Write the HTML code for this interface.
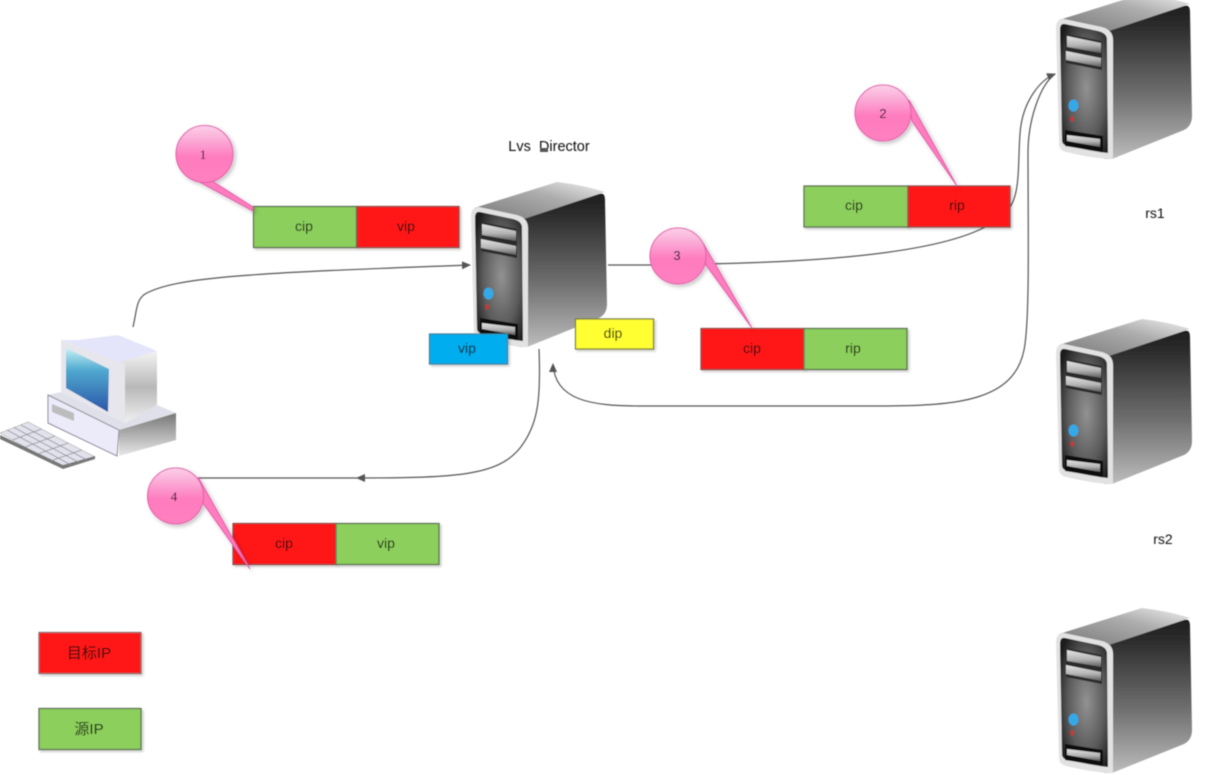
<!DOCTYPE html>
<html><head><meta charset="utf-8">
<style>
html,body{margin:0;padding:0;background:#fff}
svg{display:block}
text{font-family:"Liberation Sans","Noto Sans CJK SC",sans-serif;font-size:14px;fill:#111;text-anchor:middle}
.box{stroke:#5c6b52;stroke-width:1.2;filter:url(#sh)}
.ln{fill:none;stroke:#555;stroke-width:1.2}
.call{filter:url(#sh2)}
.call circle{fill:url(#pink);stroke:#e060a8;stroke-width:1}
.call path{fill:#ff7cbe;stroke:#e060a8;stroke-width:1}
.k{stroke:#8f8f9c;stroke-width:.8;fill:none}
</style></head><body>
<svg width="1207" height="775" viewBox="0 0 1207 775" xmlns="http://www.w3.org/2000/svg">
<defs>
<filter id="sh" x="-10%" y="-10%" width="125%" height="130%"><feDropShadow dx="1.5" dy="1.5" stdDeviation="1.2" flood-color="#000" flood-opacity=".25"/></filter>
<filter id="sh2" x="-20%" y="-20%" width="150%" height="150%"><feDropShadow dx="2" dy="2" stdDeviation="2" flood-color="#000" flood-opacity=".25"/></filter>
<filter id="bl"><feGaussianBlur stdDeviation=".4"/></filter>
<linearGradient id="pink" x1="0" y1="0" x2="0" y2="1"><stop offset="0" stop-color="#fbd0e8"/><stop offset=".3" stop-color="#fba4d3"/><stop offset=".55" stop-color="#ff7cbe"/><stop offset="1" stop-color="#ff80c0"/></linearGradient>
<linearGradient id="sr" x1="0" y1="0" x2="0" y2="1"><stop offset="0" stop-color="#1e1e1e"/><stop offset=".15" stop-color="#2e2e2e"/><stop offset=".6" stop-color="#727272"/><stop offset="1" stop-color="#bcbcbc"/></linearGradient>
<linearGradient id="st" x1="0" y1="1" x2="1" y2="0"><stop offset="0" stop-color="#787878"/><stop offset=".6" stop-color="#adadad"/><stop offset="1" stop-color="#f0f0f0"/></linearGradient>
<radialGradient id="sf" cx=".55" cy=".5" r=".65"><stop offset="0" stop-color="#929292"/><stop offset=".6" stop-color="#5a5a5a"/><stop offset="1" stop-color="#1c1c1c"/></radialGradient>
<linearGradient id="bay" x1="0" y1="0" x2="0" y2="1"><stop offset="0" stop-color="#e4e4e4"/><stop offset=".55" stop-color="#b4b4b4"/><stop offset="1" stop-color="#5c5c5c"/></linearGradient>
<linearGradient id="scr" x1="0" y1="0" x2="0" y2="1"><stop offset="0" stop-color="#c8f2f6"/><stop offset=".35" stop-color="#4fa9cf"/><stop offset="1" stop-color="#2b55a8"/></linearGradient>
<linearGradient id="gr1" x1="0" y1="0" x2="0" y2="1"><stop offset="0" stop-color="#f4f4f4"/><stop offset=".5" stop-color="#b8b8b8"/><stop offset="1" stop-color="#f0f0f0"/></linearGradient>
<linearGradient id="gr2" x1="0" y1="0" x2="0" y2="1"><stop offset="0" stop-color="#777"/><stop offset="1" stop-color="#e8e8e8"/></linearGradient>
<marker id="arr" markerWidth="10" markerHeight="10" refX="8" refY="4" orient="auto" markerUnits="userSpaceOnUse"><path d="M0 0L9 4L0 8Z" fill="#555"/></marker>
<g id="srv">
<path d="M3 26L86 0Q112 3 134 10L54 38Z" fill="url(#st)"/>
<path d="M50 38L128 12Q134 10 134 18L136 122Q136 132 128 136L56 165L48 165Z" fill="url(#sr)"/>
<path d="M8 25L46 33Q57 36 57 46L57 165Q40 165 10 158Q3 156 3 150L0 34Q0 25 8 25Z" fill="#e2e2e2"/>
<path d="M9 30L42 37Q51 39 51 46L52 159Q40 158 12 152Q6 151 6 146L4 36Q4 29 9 30Z" fill="url(#sf)"/>
<path d="M10 40L46 47L46 76L10 69Z" fill="#2a2a2a"/>
<path d="M11 42L45 49L45 59L11 53Z" fill="url(#bay)"/>
<path d="M10 57L45 64L45 73L10 66Z" fill="url(#bay)"/>
<ellipse cx="17.5" cy="111.5" rx="5" ry="6" fill="#35a8e8"/>
<ellipse cx="16" cy="125" rx="1.8" ry="2.6" fill="#d03030"/>
<path d="M9 136L47 142L47 158L9 152Z" fill="#111"/>
<path d="M11 141L44 145L44 153L11 147Z" fill="url(#bay)"/>
</g>
</defs>

<g filter="url(#bl)">
<use href="#srv" x="471" y="182"/>
<use href="#srv" x="1056" y="-6"/>
<use href="#srv" x="1056" y="319"/>
<use href="#srv" x="1056" y="608"/>

<!-- PC -->
<path d="M48 395L61 392L125 423L157 405L176 413L119 430Z" fill="#e0e0ea"/>
<path d="M48 395L119 430L117 456L48 423Z" fill="#ecebfa" stroke="#8a8a96" stroke-width="1"/>
<path d="M52 404L74 413L74 421L52 412Z" fill="#bdbdbd"/>
<path d="M119 430L176 413L176 440L119 456Z" fill="url(#gr2)"/>
<path d="M78 340L118 335L157 351L125 364L61 340Z" fill="#e4e4fb"/>
<path d="M120 362L157 351L157 405L125 423Z" fill="url(#gr1)"/>
<path d="M61 340L125 364L125 423L61 392Z" fill="#e6e6ec"/>
<path d="M66 348L109 369L108 412L66 388Z" fill="url(#scr)"/>
<path d="M0 433L28 422L95 457L63 468Z" fill="#e2e2ec" stroke="#aaa" stroke-width=".6"/>
<path d="M0 435L63 465L95 456L95 459L63 469L0 439Z" fill="#777"/>
<path class="k" d="M12.600 440L41.400 429M25.200 447L54.800 436M37.800 454L68.200 443M50.400 461L81.600 450M7 430L71 465M14 427.500L79 462.500M21 425L87 460"/>

<!-- connectors -->
<path class="ln" marker-end="url(#arr)" d="M133 327C137 310 136 300 145 294C175 277 250 273 470 265"/>
<path class="ln" d="M608 265H660"/>
<path class="ln" d="M700 264C830 262 940 252 987 226"/>
<path class="ln" marker-end="url(#arr)" d="M1010 207C1022 190 1017 150 1021 125C1025 100 1040 80 1055 74"/>
<path class="ln" d="M553 364C555 400 590 406 640 406L880 406C960 406 1014 400 1024 350C1030 320 1028 230 1028 153C1028 120 1040 85 1055 74"/>
<path d="M553 363l-4 9h8z" fill="#555"/>
<path class="ln" marker-end="url(#arr)" d="M539 349C541 400 538 425 520 448C498 475 460 478 357 478"/>
<path class="ln" d="M357 478H198"/>

<!-- boxes -->
<rect class="box" x="253.500" y="206.500" width="103" height="41" fill="#8ccf5b"/>
<rect class="box" x="357" y="206.500" width="102" height="41" fill="#ff1717" style="stroke:#8a4a4a"/>
<rect class="box" x="804" y="186" width="104" height="41" fill="#8ccf5b"/>
<rect class="box" x="908" y="186" width="102" height="41" fill="#ff1717" style="stroke:#8a4a4a"/>
<rect class="box" x="701" y="328.500" width="103" height="41" fill="#ff1717" style="stroke:#8a4a4a"/>
<rect class="box" x="804" y="328.500" width="103" height="41" fill="#8ccf5b"/>
<rect class="box" x="233" y="523.500" width="103" height="41" fill="#ff1717" style="stroke:#8a4a4a"/>
<rect class="box" x="336" y="523.500" width="103" height="41" fill="#8ccf5b"/>
<rect class="box" x="429.500" y="334" width="78" height="30" fill="#00aeef" style="stroke:#3b7f99"/>
<rect class="box" x="575.500" y="319" width="78" height="30" fill="#ffff33" style="stroke:#77773a"/>
<rect class="box" x="39" y="632.500" width="102" height="41" fill="#ff1717" style="stroke:#8a6a6a"/>
<rect class="box" x="39" y="708.500" width="102" height="41" fill="#8ccf5b"/>

<!-- callouts -->
<g class="call"><path d="M194 179L253 211V207L212 181Z"/><circle cx="204.500" cy="154" r="28.500"/></g>
<g class="call"><path d="M909 100L957 186L912 121Z"/><circle cx="883" cy="113" r="28"/></g>
<g class="call"><path d="M703 243L752 328L706 265Z"/><circle cx="678" cy="256" r="28"/></g>
<g class="call"><path d="M198 477L250 569L203 503Z"/><circle cx="175.500" cy="496" r="28"/></g>

<!-- labels -->
<text x="304" y="231">cip</text><text x="406" y="231">vip</text>
<text x="854" y="210">cip</text><text x="957" y="210">rip</text>
<text x="752" y="353">cip</text><text x="853" y="353">rip</text>
<text x="284" y="548">cip</text><text x="386" y="548">vip</text>
<text x="467" y="353">vip</text><text x="613" y="338">dip</text>
<text x="89" y="658" style="font-size:15px">目标IP</text>
<text x="89" y="734" style="font-size:15px">源IP</text>
<text x="549" y="151" style="font-size:14.500px">Lvs&#160;&#160;Director</text>
<rect x="540" y="148" width="8" height="4" fill="#555"/>
<text x="1155" y="218">rs1</text>
<text x="1163" y="544">rs2</text>
<text x="203" y="159" style="font-size:13px;font-family:'Liberation Serif',serif">1</text>
<text x="883" y="118" style="font-size:13px">2</text>
<text x="677" y="260" style="font-size:13px">3</text>
<text x="174" y="501" style="font-size:13px;font-family:'Liberation Serif',serif">4</text>
</g>
</svg>
</body></html>
